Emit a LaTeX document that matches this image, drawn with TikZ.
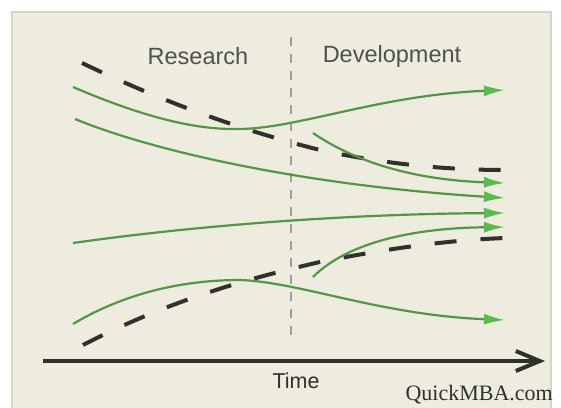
\documentclass[tikz,border=0pt]{standalone}
\usepackage{fontspec}
\setmainfont{Liberation Sans}
\newfontfamily\creditfont{Liberation Serif}
\usetikzlibrary{arrows.meta,positioning}
\definecolor{panelc}{RGB}{238,236,222}
\definecolor{framec}{RGB}{214,212,198}
\definecolor{linec}{RGB}{84,150,70}
\definecolor{tipc}{RGB}{92,186,80}
\definecolor{envc}{RGB}{48,48,44}
\definecolor{labelc}{RGB}{80,80,76}
\definecolor{dividec}{RGB}{160,160,154}
\tikzset{
	x=1pt, y=-1pt,
	project/.style={
		line width=2.2pt, draw=linec,
		-{Latex[length=21pt,width=11pt,color=tipc]}
	},
	%
	envelope/.style={
		line width=4pt, draw=envc, dash pattern=on 22pt off 24pt
	},
	%
	divider/.style={
		line width=1.8pt, draw=dividec, dash pattern=on 9pt off 8pt
	},
	%
	phasetext/.style={
		text=labelc, font=\fontsize{23.5}{28}\selectfont, inner sep=0pt
	}
}

\begin{document}
\begin{tikzpicture}
\useasboundingbox (0,0) rectangle (561,407);
\fill[white] (0,0) rectangle (561,407);
\begin{scope}
\clip (0,0) rectangle (561,407);
\draw[framec, line width=2pt, fill=panelc] (12,12) rectangle (551,430);
\end{scope}

% phase labels
\node(research)[phasetext] at (198,56) {Research};
\node(develop)[phasetext] at (392,56) {Development};
\draw[divider] (291,37) -- (291,338);

% outer envelope
\draw[envelope] (82,63) .. controls (180,110) and (260,135) .. (320,150)
	.. controls (390,165) and (450,170) .. (505,170);
\draw[envelope] (83,345) .. controls (170,300) and (250,278) .. (320,262)
	.. controls (390,248) and (450,240) .. (505,238);

% projects
\draw[project] (73,87) .. controls (150,120) and (200,130) .. (240,129)
	.. controls (300,128) and (380,95) .. (505,90);
\draw[project] (75,119) .. controls (150,150) and (300,185) .. (505,198);
\draw[project] (73,243) .. controls (200,225) and (350,214) .. (505,213);
\draw[project] (73,324) .. controls (130,290) and (190,280) .. (240,280)
	.. controls (300,282) and (380,315) .. (505,320);
\draw[project] (313,133) .. controls (360,165) and (420,180) .. (505,183);
\draw[project] (313,277) .. controls (350,240) and (420,228) .. (505,227);

% time axis
\coordinate(t0) at (43,361);
\coordinate(t1) at (545,361);
\draw[line width=4pt, envc, -{Straight Barb[length=24pt,width=20pt]}] (t0) -- (t1);
\node(time)[text=envc, font=\fontsize{21.5}{26}\selectfont, inner sep=0pt] at (296,381) {Time};
\node(credit)[text=envc, font=\creditfont\fontsize{22}{26}\selectfont, inner sep=0pt, anchor=base east] at (553,400) {QuickMBA.com};
\end{tikzpicture}
\end{document}
